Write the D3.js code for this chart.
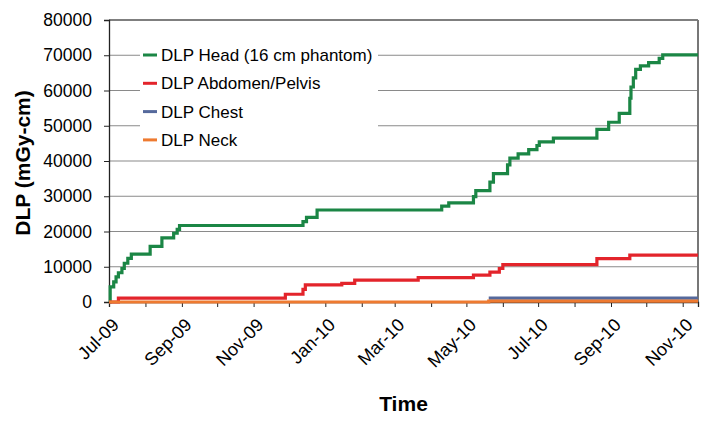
<!DOCTYPE html>
<html><head><meta charset="utf-8">
<script src="https://cdn.jsdelivr.net/npm/d3@7"></script>
<style>body{margin:0;background:#fff}svg{display:block}text{font-family:"Liberation Sans",Arial,sans-serif;fill:#000}</style>
</head><body><svg id="c" width="714" height="425"></svg>
<script>
const seriesNames = ["DLP Head (16 cm phantom)", "DLP Abdomen/Pelvis", "DLP Chest", "DLP Neck"];
const seriesColors = ["#1b8645", "#e3242b", "#55699c", "#ee7a30"];

const headDates = ["2009-07-01","2009-07-02","2009-07-05","2009-07-07","2009-07-09","2009-07-12","2009-07-14","2009-07-17","2009-07-20",
  "2009-08-05","2009-08-15","2009-08-25","2009-08-28","2009-08-30","2009-12-13","2009-12-16","2009-12-25",
  "2010-04-10","2010-04-16","2010-05-07","2010-05-09","2010-05-21","2010-05-24","2010-06-05","2010-06-07","2010-06-14",
  "2010-06-23","2010-06-30","2010-07-02","2010-07-14","2010-08-20","2010-08-30","2010-09-08","2010-09-17","2010-09-18",
  "2010-09-20","2010-09-22","2010-09-26","2010-10-03","2010-10-12","2010-10-15","2010-11-14"];
const headDLP = [0,4300,5700,7100,8300,9500,11000,12400,13600,
  15800,18200,19500,20600,21700,22800,24000,26100,
  27200,28100,29900,31600,34000,36400,38900,40800,42000,
  43200,44400,45400,46500,49000,51000,53500,57800,61000,
  63600,66000,67000,67900,69100,70100,70100];

const abdDates = ["2009-07-01","2009-07-09","2009-11-28","2009-12-13","2009-12-15","2010-01-15","2010-01-26","2010-03-21",
  "2010-05-07","2010-05-21","2010-05-29","2010-06-01","2010-08-20","2010-09-17","2010-11-14"];
const abdDLP = [0,1100,2200,3600,4850,5300,6200,6900,7650,8500,9500,10600,12300,13300,13300];

const chestDates = ["2010-05-20","2010-11-14"];
const chestDLP = [1100,1100];

const neckDates = ["2009-07-01","2010-05-20","2010-11-14"];
const neckDLP = [0,250,250];

const yTickValues = [0,10000,20000,30000,40000,50000,60000,70000,80000];
const xTickLabels = ["Jul-09","Sep-09","Nov-09","Jan-10","Mar-10","May-10","Jul-10","Sep-10","Nov-10"];
const axisStart = "2009-07-01", axisEnd = "2010-11-14";

const parse = d3.timeParse("%Y-%m-%d");
const parseLabel = d3.timeParse("%b-%y");
const svg = d3.select("#c");
const L = 109, R = 698, T = 20, B = 302;

const x = d3.scaleTime().domain([parse(axisStart), parse(axisEnd)]).range([L, R]);
const y = d3.scaleLinear().domain([0, 80000]).range([B, T]);

// gridlines
svg.append("g").selectAll("line").data(yTickValues.filter(v => v > 0 && v < 80000)).join("line")
  .attr("x1", L).attr("x2", R).attr("y1", d => y(d)).attr("y2", d => y(d))
  .attr("stroke", "#8a8a8a").attr("stroke-width", 1.2);
// top & right border
svg.append("line").attr("x1", L).attr("x2", R).attr("y1", y(80000)).attr("y2", y(80000)).attr("stroke", "#555").attr("stroke-width", 1.3);
svg.append("line").attr("x1", R).attr("x2", R).attr("y1", T).attr("y2", B).attr("stroke", "#777").attr("stroke-width", 2);

// legend background
svg.append("rect").attr("x", 140).attr("y", 42).attr("width", 238).attr("height", 111).attr("fill", "#fff");

// y axis
const yAxis = svg.append("g").attr("transform", `translate(${L},0)`)
  .call(d3.axisLeft(y).tickValues(yTickValues).tickSize(5).tickPadding(12).tickFormat(d3.format("d")));
yAxis.select(".domain").attr("stroke", "#222").attr("stroke-width", 1.3);
yAxis.selectAll(".tick line").attr("stroke", "#222");
yAxis.selectAll("text").attr("font-size", "17.5px").attr("fill", "#111");

// x axis
const months = d3.timeMonth.range(parse(axisStart), parse(axisEnd));
const xAxis = svg.append("g").attr("transform", `translate(0,${B})`)
  .call(d3.axisBottom(x).tickValues(months).tickSize(5).tickFormat(""));
xAxis.select(".domain").attr("stroke", "#222").attr("stroke-width", 1.3);
xAxis.selectAll(".tick line").attr("stroke", "#222");

svg.append("g").selectAll("text").data(xTickLabels).join("text")
  .attr("text-anchor", "end").attr("font-size", "18px").attr("fill", "#111")
  .attr("transform", d => `translate(${x(parseLabel(d)) + 11},${B + 24}) rotate(-45)`)
  .text(d => d);

// series
const series = [
  {dates: headDates, vals: headDLP},
  {dates: abdDates, vals: abdDLP},
  {dates: chestDates, vals: chestDLP},
  {dates: neckDates, vals: neckDLP}
];
const line = d3.line().x(d => x(d[0])).y(d => y(d[1])).curve(d3.curveStepAfter);
series.forEach((s, i) => {
  const pts = s.dates.map((d, j) => [parse(d), s.vals[j]]);
  svg.append("path").datum(pts).attr("d", line).attr("fill", "none")
    .attr("stroke", seriesColors[i]).attr("stroke-width", 3.2).attr("stroke-linejoin", "miter");
});

// legend
const lg = svg.append("g");
seriesNames.forEach((n, i) => {
  const cy = 55 + i * 28.3;
  lg.append("line").attr("x1", 143).attr("x2", 157).attr("y1", cy).attr("y2", cy)
    .attr("stroke", seriesColors[i]).attr("stroke-width", 3);
  lg.append("text").attr("x", 161).attr("y", cy).attr("dy", "0.35em").attr("font-size", "17px").attr("fill", "#111").text(n);
});

// titles
svg.append("text").attr("transform", `translate(30,${(T + B) / 2 + 2}) rotate(-90)`).attr("text-anchor", "middle")
  .attr("font-size", "21px").attr("font-weight", "bold").text("DLP (mGy-cm)");
svg.append("text").attr("x", (L + R) / 2).attr("y", 411).attr("text-anchor", "middle")
  .attr("font-size", "21px").attr("font-weight", "bold").text("Time");
</script></body></html>
